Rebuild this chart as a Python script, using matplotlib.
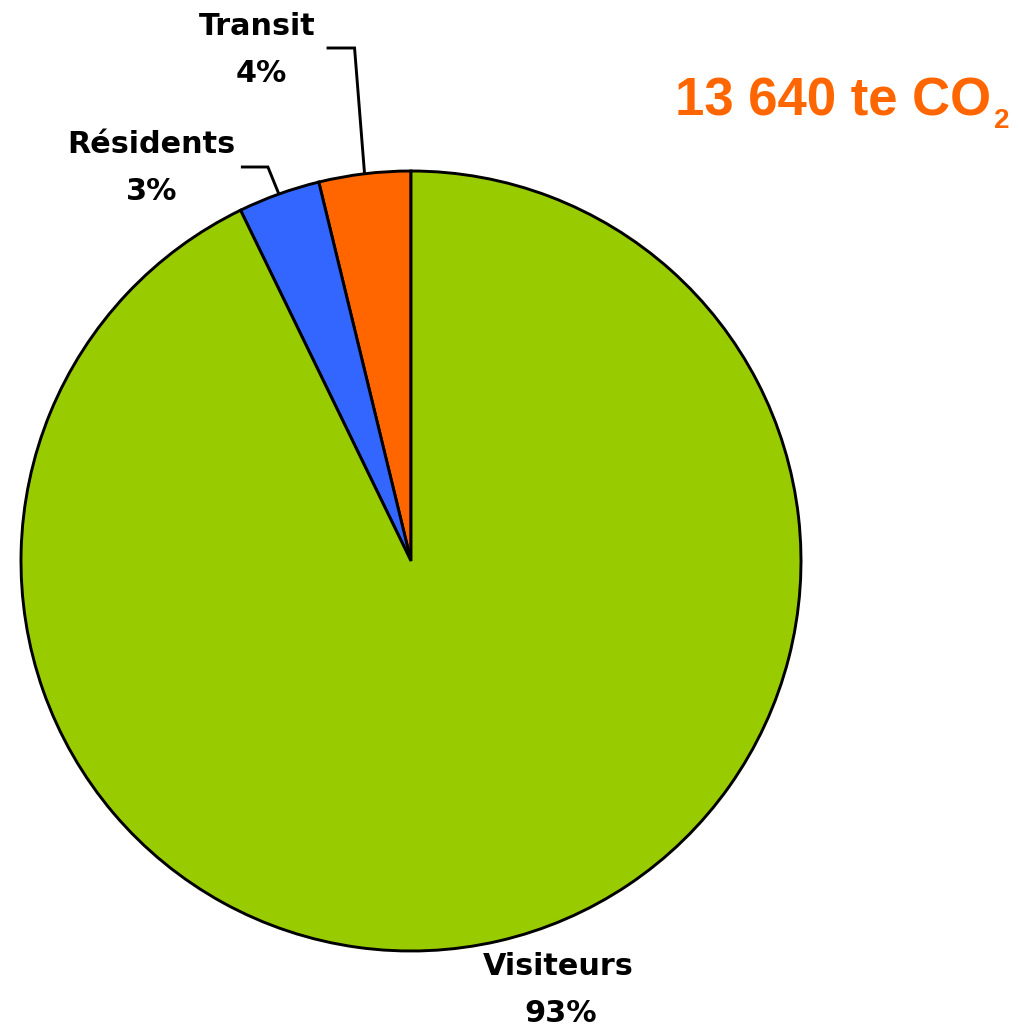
import numpy as np
import matplotlib
matplotlib.use("Agg")
import matplotlib.pyplot as plt

plt.rcParams["font.family"] = ["Liberation Sans", "DejaVu Sans"]

# data
categories = ["Transit", "Résidents", "Visiteurs"]
shares = [3.8, 3.4, 92.8]
pct_labels = ["4%", "3%", "93%"]
colors = ["#FF6600", "#3366FF", "#99CC00"]
total_text = "13 640 te CO"
total_sub = "2"

W, H = 1019, 1026
fig = plt.figure(figsize=(W / 100, H / 100), dpi=100)
ax = fig.add_axes([0, 0, 1, 1])

cx, cy, R = 411, H - 561, 390
wedges, _ = ax.pie(shares, colors=colors, startangle=90, counterclock=True,
                   center=(cx, cy), radius=R,
                   wedgeprops=dict(edgecolor="black", linewidth=2.1))
ax.set_xlim(0, W)
ax.set_ylim(0, H)
ax.set_aspect("equal")
ax.axis("off")

# leader lines for the two small slices
cum = np.cumsum([0] + shares)
mid = [np.deg2rad(90 + 3.6 * (cum[i] + cum[i + 1]) / 2) for i in range(3)]

def edge(i, r):
    return cx + r * np.cos(mid[i]), cy + r * np.sin(mid[i])

line_kw = dict(color="black", lw=2.1, solid_capstyle="butt", solid_joinstyle="miter")
# Transit
x0, y0 = edge(0, R)
ax.plot([x0, x0 - 10, x0 - 38], [y0, H - 48, H - 48], **line_kw)
# Résidents
x1, y1 = edge(1, R)
ax.plot([x1, x1 - 11, x1 - 38], [y1, H - 167, H - 167], **line_kw)

lab_kw = dict(ha="center", va="baseline", fontsize=21.8, fontweight="bold",
              color="black", family="DejaVu Sans")
label_pos = [(257, 35), (151, 153), (558, 975)]
pct_pos = [(261, 82), (152, 200), (561, 1022)]
for name, pct, (lx, ly), (px, py) in zip(categories, pct_labels, label_pos, pct_pos):
    ax.text(lx, H - ly, name, **lab_kw)
    ax.text(px, H - py, pct, **lab_kw)

# total, with CO2 subscript
t = ax.text(675, H - 115, total_text, ha="left", va="baseline", fontsize=38,
            fontweight="bold", color="#FF6600", family="Liberation Sans")
ax.annotate(total_sub, xy=(1, 0), xycoords=t, xytext=(3, -2),
            textcoords="offset pixels", ha="left", va="baseline", fontsize=20,
            fontweight="bold", color="#FF6600", family="Liberation Sans")

fig.savefig("out.png", dpi=100, facecolor="white")
